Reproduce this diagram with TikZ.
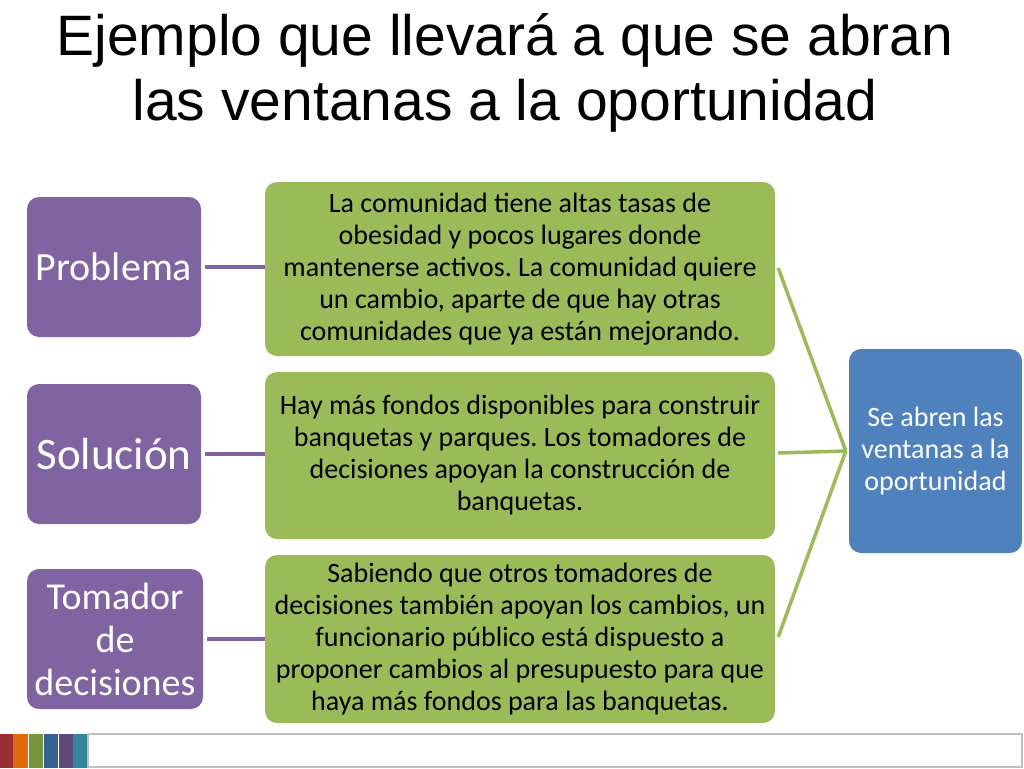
\documentclass[tikz,border=0pt]{standalone}
\usepackage{fontspec}
\setmainfont{Carlito}
\newfontfamily\titlefont{Liberation Sans}
\frenchspacing
\definecolor{pptpurple}{HTML}{8064A2}
\definecolor{pptgreen}{HTML}{9BBB59}
\definecolor{pptblue}{HTML}{4F81BD}
\definecolor{sred}{HTML}{9B3034}
\definecolor{sorange}{HTML}{E36C0A}
\definecolor{sgreen}{HTML}{77933C}
\definecolor{sblue}{HTML}{366092}
\definecolor{spurple}{HTML}{604A7B}
\definecolor{steal}{HTML}{31859C}
\tikzset{
  lbox/.style={fill=pptpurple, rounded corners=12pt, text=white, align=center, inner sep=0pt},
  gbox/.style={fill=pptgreen, rounded corners=12pt, text=black, align=center, inner sep=0pt,
    font=\fontsize{28}{32}\selectfont\frenchspacing},
  bbox/.style={fill=pptblue, rounded corners=12pt, text=white, align=center, inner sep=0pt,
    font=\fontsize{28}{32}\selectfont},
  pline/.style={draw=pptpurple, line width=3.5pt},
  gline/.style={draw=pptgreen, line width=3.5pt},
}
\begin{document}
\begin{tikzpicture}[x=1pt,y=-1pt]
\useasboundingbox (0,0) rectangle (1024,768);
% title
\node[font=\titlefont\fontsize{57}{65}\selectfont, align=center, anchor=center] (title) at (505,73)
  {Ejemplo que llevará a que se abran\\las ventanas a la oportunidad};
% left boxes
\node[lbox, font=\fontsize{40}{44}\selectfont, minimum width=174pt, minimum height=140pt] (p1) at (114,267) {Problema};
\node[lbox, font=\fontsize{45}{50}\selectfont, minimum width=174pt, minimum height=140pt] (p2) at (114,454) {Solución};
\node[lbox, font=\fontsize{38}{43}\selectfont, minimum width=176pt, minimum height=140pt] (p3) at (115,639) {Tomador\\de\\decisiones};
% green boxes
\node[gbox, minimum width=510pt, minimum height=174pt] (g1) at (520,269)
  {La comunidad tiene altas tasas de\\obesidad y pocos lugares donde\\mantenerse activos. La comunidad quiere\\un cambio, aparte de que hay otras\\comunidades que ya están mejorando.};
\node[gbox, minimum width=510pt, minimum height=167pt] (g2) at (520,455.5)
  {Hay más fondos disponibles para construir\\banquetas y parques. Los tomadores de\\decisiones apoyan la construcción de\\banquetas.};
\node[gbox, minimum width=510pt, minimum height=168pt] (g3) at (520,639)
  {Sabiendo que otros tomadores de\\decisiones también apoyan los cambios, un\\funcionario público está dispuesto a\\proponer cambios al presupuesto para que\\haya más fondos para las banquetas.};
% blue box
\node[bbox, minimum width=173pt, minimum height=204pt] (b) at (935.5,451)
  {Se abren las\\ventanas a la\\oportunidad};
% connectors
\coordinate (c1) at ([xshift=4pt]p1.east);
\coordinate (c2) at ([xshift=4pt]p2.east);
\coordinate (c3) at ([xshift=4pt]p3.east);
\draw[pline] (c1) -- (c1 -| g1.west);
\draw[pline] (c2) -- (c2 -| g2.west);
\draw[pline] (c3) -- (c3 -| g3.west);
\coordinate (m) at ([xshift=-3pt]b.west);
\coordinate (d1) at ([xshift=3pt]g1.east |- 0,268);
\coordinate (d2) at ([xshift=3pt]g2.east |- 0,453);
\coordinate (d3) at ([xshift=3pt]g3.east |- 0,637);
\draw[gline] (d1) -- (m);
\draw[gline] (d2) -- (m);
\draw[gline] (d3) -- (m);
% bottom strip
\fill[sred] (0,734) rectangle (13,768);
\fill[sorange] (13,734) rectangle (28,768);
\fill[sgreen] (29,734) rectangle (43,768);
\fill[sblue] (44,734) rectangle (58,768);
\fill[spurple] (59,734) rectangle (73,768);
\fill[steal] (73,734) rectangle (87,768);
\draw[draw=black!25, line width=2pt] (88,734) rectangle (1022,767);
\end{tikzpicture}
\end{document}
